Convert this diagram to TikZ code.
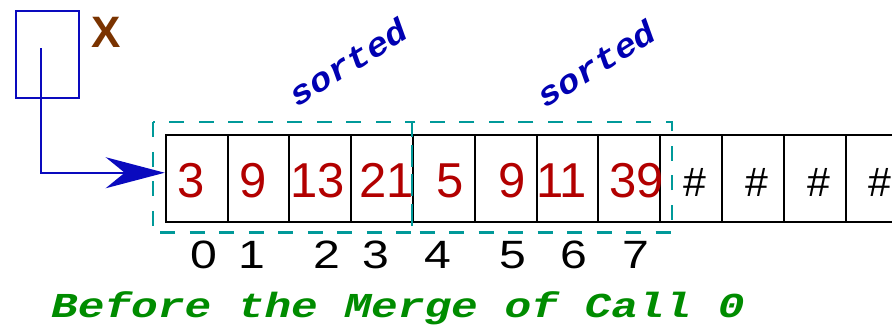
\documentclass[tikz,border=0pt]{standalone}
\usepackage{fontspec}
\setmainfont{Liberation Sans}
\newfontfamily\codefont{Liberation Mono}[FakeStretch=1.27]
\newfontfamily\labfont{Liberation Mono}[FakeStretch=1.12]
\newfontfamily\idxfont{Liberation Sans}[FakeStretch=1.22]
\usetikzlibrary{arrows.meta}
\definecolor{valred}{RGB}{178,0,0}
\definecolor{ptrblue}{RGB}{10,10,190}
\definecolor{labblue}{RGB}{0,0,178}
\definecolor{runteal}{RGB}{0,153,153}
\definecolor{capgreen}{RGB}{0,140,0}
\definecolor{varbrown}{RGB}{122,51,0}
\begin{document}
\begin{tikzpicture}[x=1pt,y=-1pt,
  cell/.style={draw=black,line width=2pt,minimum width=61.8pt,minimum height=86.7pt,inner sep=0pt,anchor=north west},
  val/.style={text=valred,anchor=base,inner sep=0pt,font=\fontsize{49}{49}\selectfont},
  hash/.style={anchor=base,inner sep=0pt,font=\fontsize{41}{41}\selectfont},
  idx/.style={anchor=base,inner sep=0pt,font=\idxfont\fontsize{39.5}{39.5}\selectfont},
  run/.style={draw=runteal,line width=2.4pt,dash pattern=on 15pt off 14.5pt},
  sortlab/.style={text=labblue,rotate=32,inner sep=0pt,font=\labfont\bfseries\itshape\fontsize{33}{33}\selectfont},
  ptr/.style={draw=ptrblue,line width=2pt}]
\useasboundingbox (0,0) rectangle (892,328);
\clip (0,0) rectangle (892,328);

% array cells
\foreach \i in {0,...,11}
  \node[cell] (c\i) at ({164.7+61.8*\i},134) {};

% stored values
\foreach \x/\v [count=\k from 0] in {191/3,253/9,317.5/13,386.5/21,450/5,512.5/9,561.7/11,636.7/39}
  \node[val] (v\k) at (\x,197.3) {\v};
\foreach \x [count=\k from 8] in {695,757,818.5,880}
  \node[hash] (v\k) at (\x,197) {\#};

% indices
\foreach \x/\n in {203.5/0,251.5/1,326.7/2,375.8/3,437.5/4,512.5/5,574/6,636/7}
  \node[idx] (i\n) at (\x,269) {\n};

% sorted runs
\draw[run] (152.7,122.3) rectangle (412,232.7);
\draw[run] (412,122.3) rectangle (672,232.7);
\node[sortlab] (s1) at (348,62) {sorted};
\node[sortlab] (s2) at (596,63.5) {sorted};

% pointer variable
\node[ptr,draw,minimum width=62.7pt,minimum height=87pt,inner sep=0pt] (xbox) at (47.35,54.2) {};
\node[text=varbrown,anchor=base,inner sep=0pt,font=\bfseries\fontsize{44}{44}\selectfont] (xlab) at (106,47.7) {X};
\coordinate (ptrstart) at (41.3,48.3);
\draw[ptr,-{Stealth[length=59pt,width=31pt,inset=19pt]}] (ptrstart) |- ([yshift=5.6pt]c0.west);

% caption
\node[anchor=base west,text=capgreen,inner sep=0pt,font=\codefont\bfseries\itshape\fontsize{35}{35}\selectfont] (cap) at (51,318) {Before the Merge of Call 0};
\end{tikzpicture}
\end{document}
